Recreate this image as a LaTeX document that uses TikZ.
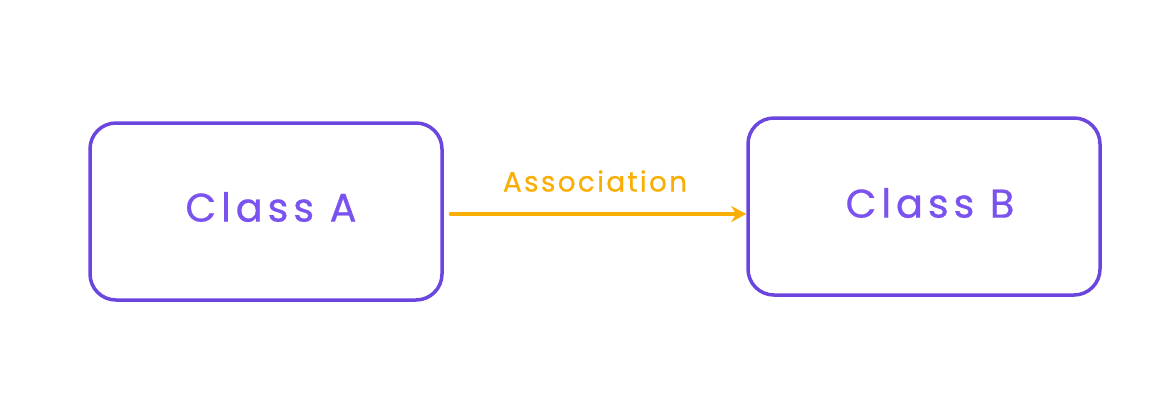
\documentclass[tikz,border=0pt]{standalone}
\usepackage{fontspec}
\setmainfont{Poppins}
\usetikzlibrary{arrows.meta}
\definecolor{boxviolet}{HTML}{6A45DE}
\definecolor{textviolet}{HTML}{7A52F0}
\definecolor{assocorange}{HTML}{F9AE05}
\tikzset{
  classbox/.style={draw=boxviolet, line width=3.5pt, rounded corners=26pt, minimum width=352pt, minimum height=177pt, inner sep=0pt},
  classtext/.style={text=textviolet, font=\fontsize{40}{44}\selectfont\addfontfeature{LetterSpace=12,FakeBold=0.6}},
  assoc/.style={draw=assocorange, line width=4pt, line cap=round, -{Stealth[length=15pt,width=16pt]}},
  assoclabel/.style={text=assocorange, font=\fontsize{28}{32}\selectfont\addfontfeature{LetterSpace=8,FakeBold=0.5}}
}
\begin{document}
\begin{tikzpicture}[x=1pt,y=1pt]
  \useasboundingbox (0,0) rectangle (1160,408);
  \node[classbox] (A) at (266,196.5) {};
  \node[classbox] (B) at (924,201.5) {};
  \node[classtext] (tA) at (271,201) {Class A};
  \node[classtext] (tB) at (930,205) {Class B};
  \coordinate (s) at ([xshift=7pt]A.east |- 0,194);
  \coordinate (e) at (B.west |- 0,194);
  \draw[assoc] (s) -- (e);
  \node[assoclabel] (lab) at (595,227) {Association};
\end{tikzpicture}
\end{document}
